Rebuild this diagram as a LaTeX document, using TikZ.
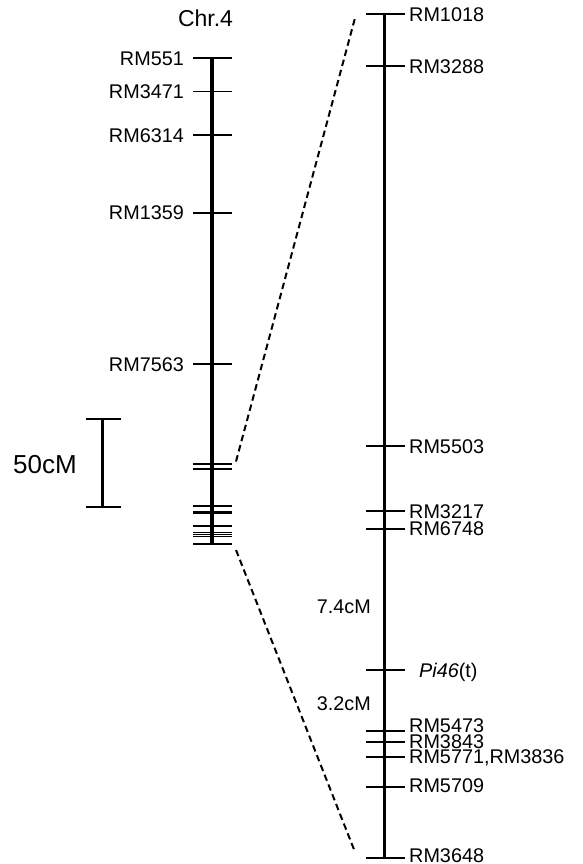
\documentclass[tikz,border=0pt]{standalone}
\usepackage{fontspec}
\setmainfont{Liberation Sans}
\usetikzlibrary{positioning}

\begin{document}
\begin{tikzpicture}[
  x=1pt, y=-1pt,
  chrom/.style={line width=3.3pt},
  tick/.style={line width=1.9pt},
  mk/.style={inner sep=0pt,text height=14.2pt,text depth=0pt,font=\fontsize{19.8}{22}\selectfont},
  link/.style={line width=2pt,dash pattern=on 6.5pt off 4pt}
]
  \useasboundingbox (0,0) rectangle (583,864);

  % left chromosome
  \coordinate (ltop) at (212,58);
  \coordinate (lbot) at (212,544);
  \draw[chrom] (ltop) -- (lbot);
  \node[inner sep=0pt,font=\fontsize{23}{26}\selectfont] (chr) at (205.5,18) {Chr.4};
  \foreach \y/\name in {58/RM551,91.5/RM3471,135/RM6314,212.7/RM1359,364/RM7563} {
    \draw[tick] (193,\y) -- (232,\y);
    \node[mk,anchor=east] (\name) at (184,\y) {\name};
  }
  \foreach \y in {464,469,506,512,513.5,526,532.5,534.5,536.5,544}
    \draw[tick] (193,\y) -- (232,\y);

  % scale bar
  \coordinate (stop) at (102.7,419);
  \coordinate (sbot) at (102.7,506.7);
  \draw[line width=2.7pt] (stop) -- (sbot);
  \draw[tick] (86,419) -- (121,419);
  \draw[tick] (86,506.7) -- (121,506.7);
  \node[inner sep=0pt,font=\fontsize{26}{30}\selectfont] (bar) at (45,465) {50cM};

  % right chromosome (enlarged)
  \coordinate (rtop) at (384.3,14);
  \coordinate (rbot) at (384.3,858);
  \draw[chrom] (rtop) -- (rbot);
  \foreach \y in {14,66,446,511,528.7,670,731,742,756.7,787,858}
    \draw[tick] (366,\y) -- (405,\y);
  \foreach \y/\name in {14/RM1018,66/RM3288,446/RM5503,511/RM3217,528.7/RM6748,
                        725/RM5473,741.7/RM3843,785/RM5709,855.5/RM3648}
    \node[mk,anchor=west] (\name) at (409,\y) {\name};
  \node[mk,anchor=west] (RM5771) at (409,756) {RM5771,RM3836};
  \node[mk,anchor=west] (pi46) at (419,670) {\textit{Pi46}(t)};

  \node[mk,anchor=east] (d1) at (371,606.7) {7.4cM};
  \node[mk,anchor=east] (d2) at (371,703) {3.2cM};

  % zoom lines
  \coordinate (lu) at (236,461.5);
  \coordinate (ll) at (236,550);
  \coordinate (ru) at (355,18);
  \coordinate (rl) at (355,852);
  \draw[link] (lu) -- (ru);
  \draw[link] (ll) -- (rl);
\end{tikzpicture}
\end{document}
